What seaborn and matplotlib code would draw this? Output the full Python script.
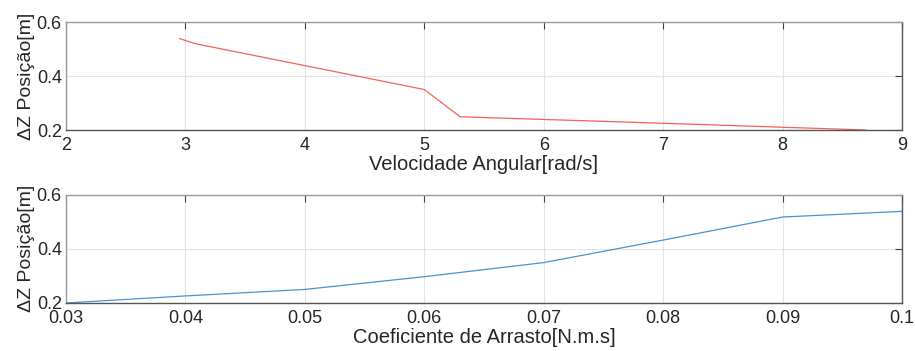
import numpy as np
import pandas as pd
import matplotlib
matplotlib.use("Agg")
import matplotlib.pyplot as plt
import seaborn as sns
from matplotlib.ticker import FuncFormatter

# =====================================
# Data
# =====================================

velocidade = [2.95, 3.08, 5.0, 5.3, 7.0, 8.7]
dz_velocidade = [0.539, 0.520, 0.350, 0.249, 0.225, 0.200]

coeficiente = [0.03, 0.04, 0.05, 0.06, 0.07, 0.08, 0.09, 0.10]
dz_coeficiente = [0.200, 0.226, 0.250, 0.297, 0.349, 0.432, 0.517, 0.538]

vel_ticks = [2, 3, 4, 5, 6, 7, 8, 9]
coef_ticks = [0.03, 0.04, 0.05, 0.06, 0.07, 0.08, 0.09, 0.10]
dz_ticks = [0.2, 0.4, 0.6]

ylabel = "ΔZ Posição[m]"
xlabel_top = "Velocidade Angular[rad/s]"
xlabel_bottom = "Coeficiente de Arrasto[N.m.s]"

df_top = pd.DataFrame({"x": velocidade, "y": dz_velocidade})
df_bot = pd.DataFrame({"x": coeficiente, "y": dz_coeficiente})

# =====================================
# Style
# =====================================

sns.set_style("white")
plt.rcParams["font.family"] = ["Liberation Sans", "DejaVu Sans"]
plt.rcParams["font.size"] = 13

fig = plt.figure(figsize=(9.15, 3.51), dpi=100)
ax1 = fig.add_axes([0.0721, 0.6296, 0.9137, 0.3077])
ax2 = fig.add_axes([0.0721, 0.1368, 0.9137, 0.3090])

sns.lineplot(data=df_top, x="x", y="y", ax=ax1, color="#f4615a", linewidth=0.9)
sns.lineplot(data=df_bot, x="x", y="y", ax=ax2, color="#4a92d0", linewidth=0.9)


def fmt(v, pos):
    return f"{v:g}"


for ax, xt, xl, xlim in [
    (ax1, vel_ticks, xlabel_top, (2, 9)),
    (ax2, coef_ticks, xlabel_bottom, (0.03, 0.10)),
]:
    ax.set_xlim(*xlim)
    ax.set_ylim(0.2, 0.6)
    ax.set_xticks(xt)
    ax.set_yticks(dz_ticks)
    ax.xaxis.set_major_formatter(FuncFormatter(fmt))
    ax.yaxis.set_major_formatter(FuncFormatter(fmt))
    ax.grid(True, color="#e3e3e3", linewidth=0.8)
    ax.tick_params(direction="in", length=5, width=0.8, color="#404040",
                   top=True, right=True, labelsize=13, labelcolor="#262626")
    ax.tick_params(axis="x", pad=5)
    ax.tick_params(axis="y", pad=3)
    for side, spine in ax.spines.items():
        spine.set_visible(True)
        spine.set_linewidth(1.0)
        spine.set_color("#9a9a9a" if side in ("top", "left") else "#555555")
    ax.set_xlabel(xl, fontsize=14.5, color="#262626", labelpad=1)
    ax.set_ylabel(ylabel, fontsize=14, color="#262626", labelpad=1)

plt.savefig("out.png", dpi=100)
